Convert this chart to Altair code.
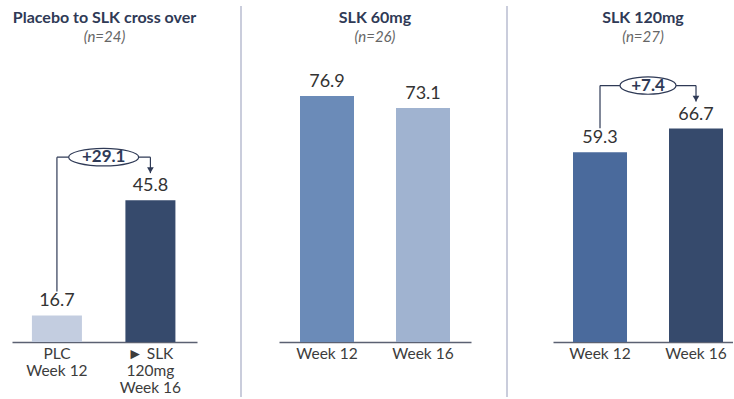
import altair as alt
import pandas as pd

# ---- data ----
panel_titles = ["Placebo to SLK cross over", "SLK 60mg", "SLK 120mg"]
panel_ns = ["(n=24)", "(n=26)", "(n=27)"]
p1_labels = ["PLC|Week 12", "\u25BA SLK|120mg|Week 16"]
p1_values = [16.7, 45.8]
p2_labels = ["Week 12", "Week 16"]
p2_values = [76.9, 73.1]
p3_labels = ["Week 12", "Week 16"]
p3_values = [59.3, 66.7]
changes = ["+29.1", None, "+7.4"]

# ---- styles ----
FONT = "Lato"
NAVY = "#2f3a56"
H = 288
p1_colors = ["#c3cde0", "#364a6c"]
p2_colors = ["#6b8bb8", "#a0b3d0"]
p3_colors = ["#4a6a9c", "#364a6c"]


def make_panel(title, sub, labels, values, colors, change, width, domain,
               p_inner, p_outer, align, ellipse_w, ellipse_ry, extra=None):
    k = H / (domain[1] - domain[0])
    df = pd.DataFrame({"cat": labels, "val": values, "txt": [f"{v:.1f}" for v in values]})
    xscale = alt.Scale(domain=labels, paddingInner=p_inner, paddingOuter=p_outer, align=align)
    yscale = alt.Scale(domain=domain, zero=False, nice=False)
    base = alt.Chart(df)
    bars = base.mark_bar().encode(
        x=alt.X("cat:N", scale=xscale, sort=labels,
                axis=alt.Axis(title=None, labelAngle=0, ticks=False, domainColor="#5b6172",
                              domainWidth=1.5, labelFont=FONT, labelFontSize=15.5,
                              labelColor="#3c3c3c", labelPadding=4, labelLineHeight=17,
                              labelBaseline="top",
                              labelExpr="split(datum.label, '|')")),
        y=alt.Y("val:Q", scale=yscale, axis=None),
        y2=alt.datum(domain[0]),
        color=alt.Color("cat:N", scale=alt.Scale(domain=labels, range=colors), legend=None),
    )
    text = base.mark_text(dy=-5, baseline="bottom", font=FONT, fontSize=18, color="#333333").encode(
        x=alt.X("cat:N", scale=xscale, sort=labels),
        y=alt.Y("val:Q", scale=yscale),
        text="txt:N",
    )
    tdf = pd.DataFrame({"t": [title], "s": [sub]})
    ttl = alt.Chart(tdf).mark_text(font=FONT, fontSize=16, fontWeight="bold", color=NAVY,
                                   baseline="middle", align="center").encode(
        x=alt.value(width / 2), y=alt.value(-36), text="t:N")
    stl = alt.Chart(tdf).mark_text(font=FONT, fontSize=15, fontStyle="italic", color="#666666",
                                   baseline="middle", align="center").encode(
        x=alt.value(width / 2), y=alt.value(-17), text="s:N")
    layers = [bars, text, ttl, stl]
    if change is not None:
        v1, v2 = values
        bd = pd.DataFrame({
            "c1": [labels[0]], "c2": [labels[1]],
            "start": [v1 + 24 / k], "level": [max(values) + 43 / k], "end": [v2 + 27 / k],
            "chg": [change],
        })
        b = alt.Chart(bd)
        step = width / (2 - p_inner + 2 * p_outer)
        lc = NAVY
        r1 = b.mark_rule(color=lc, strokeWidth=1.2).encode(
            x=alt.X("c1:N", scale=xscale), y=alt.Y("start:Q", scale=yscale), y2="level:Q")
        r2 = b.mark_rule(color=lc, strokeWidth=1.2).encode(
            x=alt.X("c1:N", scale=xscale), x2="c2:N", y=alt.Y("level:Q", scale=yscale))
        r3 = b.mark_rule(color=lc, strokeWidth=1.2).encode(
            x=alt.X("c2:N", scale=xscale), y=alt.Y("level:Q", scale=yscale), y2="end:Q")
        arrow = b.mark_point(shape="triangle-down", filled=True, size=45, opacity=1,
                             color=lc, yOffset=-3).encode(
            x=alt.X("c2:N", scale=xscale), y=alt.Y("end:Q", scale=yscale))
        ell_shape = f"M -1 0 A 1 {ellipse_ry} 0 1 1 1 0 A 1 {ellipse_ry} 0 1 1 -1 0 Z"
        ell = b.mark_point(shape=ell_shape, filled=True, fill="white", stroke=lc,
                           strokeWidth=1.2, opacity=1, size=ellipse_w ** 2,
                           xOffset=step / 2).encode(
            x=alt.X("c1:N", scale=xscale), y=alt.Y("level:Q", scale=yscale))
        et = b.mark_text(font=FONT, fontSize=17, fontWeight="bold", color=lc,
                         xOffset=step / 2, baseline="middle").encode(
            x=alt.X("c1:N", scale=xscale), y=alt.Y("level:Q", scale=yscale), text="chg:N")
        layers += [r1, r2, r3, arrow, ell, et]
    if extra is not None:
        layers += extra
    return alt.layer(*layers).properties(width=width, height=H)


sep_df = pd.DataFrame({"s": [0]})
sep1 = alt.Chart(sep_df).mark_rule(color="#b8bcd0", strokeWidth=1.5).encode(
    x=alt.value(-38), y=alt.value(-48), y2=alt.value(343))
sep2 = alt.Chart(sep_df).mark_rule(color="#b8bcd0", strokeWidth=1.5).encode(
    x=alt.value(228), y=alt.value(-48), y2=alt.value(343))

p1 = make_panel(panel_titles[0], panel_ns[0], p1_labels, p1_values, p1_colors, changes[0],
                185, [10, 82.7], 0.465, 0.222, 0.48, 70, 0.25)
p2 = make_panel(panel_titles[1], panel_ns[1], p2_labels, p2_values, p2_colors, changes[1],
                192, [0, 90], 0.4375, 0.21875, 0.5, 0, 0, extra=[sep1, sep2])
p3 = make_panel(panel_titles[2], panel_ns[2], p3_labels, p3_values, p3_colors, changes[2],
                180, [0, 90], 0.4375, 0.15625, 0.667, 56, 0.31)

chart = alt.hconcat(p1, p2, p3, spacing=82, bounds="flush").resolve_scale(
    x="independent", y="independent", color="independent"
).properties(
    padding={"left": 12, "top": 5, "right": 0, "bottom": 0},
    background="white",
).configure_view(stroke=None)

chart.save("out.html", embed_options={"renderer": "svg", "actions": False})
